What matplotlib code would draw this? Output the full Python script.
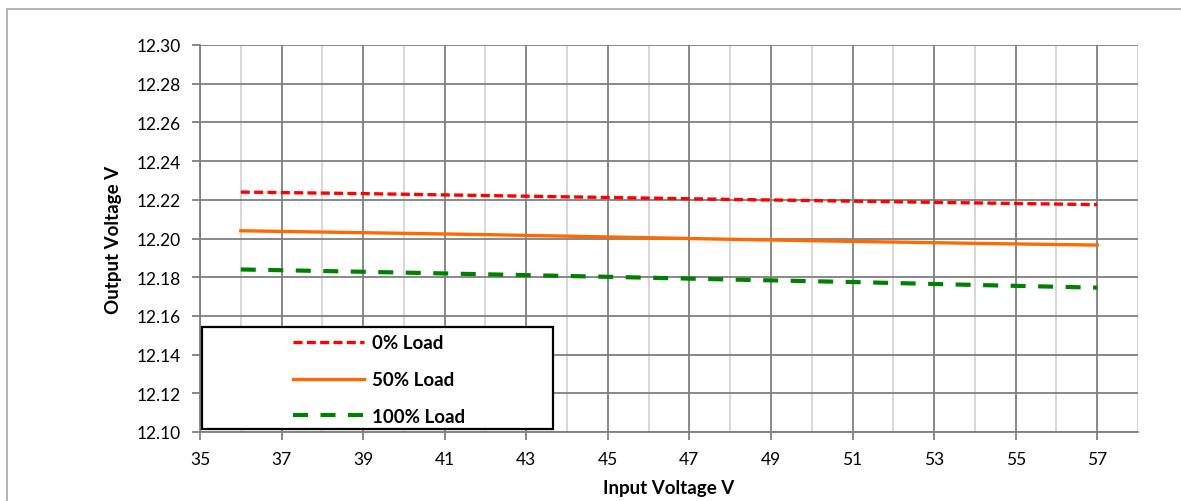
import matplotlib
matplotlib.use("Agg")
import matplotlib.pyplot as plt
from matplotlib.patches import Rectangle
from matplotlib.ticker import FixedLocator, MultipleLocator, FormatStrFormatter

plt.rcParams["font.family"] = ["Lato", "DejaVu Sans"]

# input voltage (V) and output voltage (V) per load level
vin = [36, 39, 42, 45, 48, 51, 54, 57]
load_0 = [12.2240, 12.2232, 12.2222, 12.2212, 12.2202, 12.2193, 12.2184, 12.2175]
load_50 = [12.2040, 12.2030, 12.2020, 12.2008, 12.1996, 12.1985, 12.1975, 12.1966]
load_100 = [12.1840, 12.1828, 12.1815, 12.1802, 12.1788, 12.1775, 12.1760, 12.1746]
labels = ["0% Load", "50% Load", "100% Load"]
xticks = [35, 37, 39, 41, 43, 45, 47, 49, 51, 53, 55, 57]

fig = plt.figure(figsize=(11.81, 5.02), dpi=100)
ax = fig.add_axes([200 / 1181, 1 - 433 / 502, 938 / 1181, 387 / 502])

# outer chart border
fig.patches.append(Rectangle((7 / 1181, -0.05), 1.2, 1 - 10 / 502 + 0.05,
                             transform=fig.transFigure, fill=False,
                             edgecolor="#a6a6a6", linewidth=1.2))

ax.plot(vin, load_0, color="#ff0000", lw=2.4, dashes=(2.7, 1.3),
        dash_capstyle="butt", label=labels[0], zorder=3)
ax.plot(vin, load_50, color="#ff6a00", lw=2.4, label=labels[1], zorder=3)
ax.plot(vin, load_100, color="#008000", lw=3.0, dashes=(3.6, 3.0),
        dash_capstyle="butt", label=labels[2], zorder=3)

ax.set_xlim(35, 58)
ax.set_ylim(12.10, 12.30)
ax.xaxis.set_major_locator(FixedLocator(xticks))
ax.xaxis.set_minor_locator(MultipleLocator(1))
ax.yaxis.set_major_locator(MultipleLocator(0.02))
ax.yaxis.set_major_formatter(FormatStrFormatter("%.2f"))

ax.grid(True, which="minor", axis="x", color="#d4d4d4", lw=1.3)
ax.grid(True, which="major", axis="x", color="#7f7f7f", lw=1.3)
ax.grid(True, which="major", axis="y", color="#7f7f7f", lw=1.3)
ax.set_axisbelow(True)

for s in ("top", "right"):
    ax.spines[s].set_visible(False)
for s in ("left", "bottom"):
    ax.spines[s].set_color("#7f7f7f")
    ax.spines[s].set_linewidth(1.3)

ax.tick_params(axis="both", which="major", length=6, width=1.3, color="#7f7f7f",
               labelsize=12.5, pad=8)
ax.tick_params(axis="x", which="minor", length=0)

ax.set_xlabel("Input Voltage V", fontsize=13.5, fontweight="bold", labelpad=8)
ax.set_ylabel("Output Voltage V", fontsize=13.5, fontweight="bold", labelpad=10)

# legend box drawn separately; entries sit to the right inside it
ax.add_patch(Rectangle((0.002, 0.008), 0.374, 0.263, transform=ax.transAxes,
                       facecolor="white", edgecolor="black", linewidth=1.6,
                       zorder=4, clip_on=False))
leg = ax.legend(loc="upper left", bbox_to_anchor=(0.099, 0.252),
                frameon=False, prop={"weight": "bold", "size": 13.5},
                handlelength=3.8, handletextpad=0.4, labelspacing=1.05,
                borderpad=0, borderaxespad=0)
leg.set_zorder(5)

fig.savefig("out.png", dpi=100, facecolor="white")
